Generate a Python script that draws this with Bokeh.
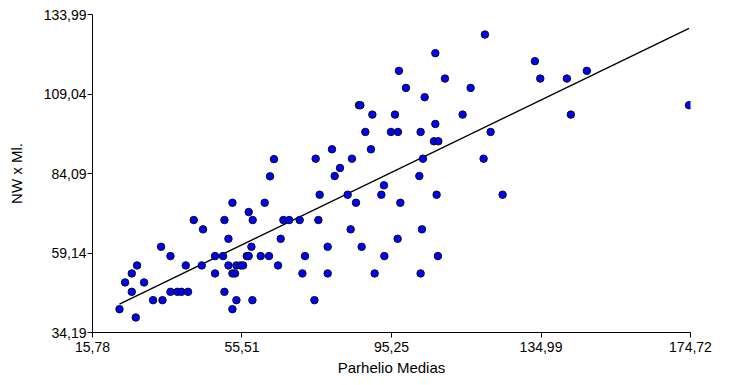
import numpy as np
from bokeh.plotting import figure
from bokeh.models import FixedTicker, Range1d
from bokeh.embed import file_html
from bokeh.resources import INLINE

# ---- data ----
parhelio = [
    120.08,
    106.90,
    133.36,
    97.23, 147.17,
    109.45, 134.79, 141.86,
    99.09, 116.28,
    104.06,
    86.60, 86.98, 174.32,
    90.16, 96.17, 114.15, 142.92,
    106.90,
    88.30, 95.10, 96.96, 102.99, 121.59,
    106.53, 107.70,
    79.43, 89.79,
    64.02, 75.10, 84.74, 103.61, 119.73,
    81.56,
    62.96, 80.15, 102.65,
    93.24,
    76.16, 83.60, 92.55, 107.24, 124.78,
    52.97, 61.55, 85.81, 97.60,
    57.30,
    42.69, 50.85, 58.36, 66.52, 68.06, 70.85, 75.82,
    45.16, 84.40, 103.34,
    51.91, 65.80, 96.88,
    34.00, 58.02, 78.29, 87.32,
    36.50, 48.35, 50.47, 56.77, 57.30, 60.49, 62.69, 72.26, 93.35, 107.59,
    27.63, 40.57, 44.82, 51.91, 54.03, 55.10, 55.79, 65.09,
    26.22, 48.35, 52.97, 53.66, 71.57, 78.29, 90.77, 102.99,
    24.44, 29.49,
    26.22, 36.50, 38.36, 39.42, 41.18, 50.85,
    31.88, 34.38, 54.03, 58.28, 74.76,
    22.95, 52.97,
    27.28,
]
nw_ml = [
    127.70,
    121.86,
    119.35,
    116.30, 116.30,
    113.88, 113.88, 113.88,
    110.96, 110.96,
    108.03,
    105.52, 105.52, 105.52,
    102.57, 102.57, 102.57, 102.57,
    99.64,
    97.13, 97.13, 97.13, 97.13, 97.13,
    94.21, 94.21,
    91.69, 91.69,
    88.60, 88.74, 88.74, 88.74, 88.74,
    85.82,
    83.20, 83.30, 83.30,
    80.38,
    77.43, 77.43, 77.43, 77.43, 77.43,
    74.91, 74.91, 74.91, 74.91,
    71.99,
    69.48, 69.48, 69.48, 69.48, 69.48, 69.48, 69.48,
    66.56, 66.56, 66.56,
    63.60, 63.60, 63.60,
    61.09, 61.09, 61.09, 61.09,
    58.17, 58.17, 58.17, 58.17, 58.17, 58.17, 58.17, 58.17, 58.17, 58.17,
    55.24, 55.24, 55.24, 55.24, 55.24, 55.24, 55.24, 55.24,
    52.73, 52.73, 52.73, 52.73, 52.73, 52.73, 52.73, 52.73,
    49.90, 49.90,
    46.95, 46.95, 46.95, 46.95, 46.95, 46.95,
    44.34, 44.34, 44.34, 44.34, 44.34,
    41.51, 41.51,
    38.90,
]

x_ticks = [15.78, 55.51, 95.25, 134.99, 174.72]
x_tick_labels = ["15,78", "55,51", "95,25", "134,99", "174,72"]
y_ticks = [34.19, 59.14, 84.09, 109.04, 133.99]
y_tick_labels = ["34,19", "59,14", "84,09", "109,04", "133,99"]

x_title = "Parhelio Medias"
y_title = "NW x Ml."

# ---- regression line computed from the data ----
xa = np.array(parhelio)
ya = np.array(nw_ml)
slope, intercept = np.polyfit(xa, ya, 1)
fit_x = [xa.min(), xa.max()]
fit_y = [intercept + slope * v for v in fit_x]

FONT = "Liberation Sans"

p = figure(
    frame_width=598, frame_height=318,
    x_range=Range1d(x_ticks[0], x_ticks[-1]),
    y_range=Range1d(y_ticks[0], y_ticks[-1]),
    output_backend="svg", toolbar_location=None,
    min_border_left=92, min_border_right=24,
    min_border_top=14, min_border_bottom=44,
    background_fill_color="white", border_fill_color="white",
)
p.outline_line_color = None
p.xgrid.visible = False
p.ygrid.visible = False

p.line(fit_x, fit_y, line_color="black", line_width=1.4)
p.scatter(parhelio, nw_ml, marker="circle", size=7.5,
          fill_color="#0000ff", line_color="#111111", line_width=1)

for ax, ticks, labels, title in ((p.xaxis[0], x_ticks, x_tick_labels, x_title),
                                 (p.yaxis[0], y_ticks, y_tick_labels, y_title)):
    ax.ticker = FixedTicker(ticks=ticks)
    ax.major_label_overrides = {t: l for t, l in zip(ticks, labels)}
    ax.axis_label = title
    ax.axis_label_text_font = FONT
    ax.axis_label_text_font_size = "15px"
    ax.axis_label_text_font_style = "normal"
    ax.axis_label_text_color = "black"
    ax.major_label_text_font = FONT
    ax.major_label_text_font_size = "14px"
    ax.major_label_text_color = "black"
    ax.axis_line_color = "black"
    ax.major_tick_line_color = "black"
    ax.minor_tick_line_color = None
    ax.major_tick_in = 0
    ax.major_tick_out = 5

p.yaxis[0].major_label_standoff = 1
p.xaxis[0].major_label_standoff = 4
p.yaxis[0].axis_label_standoff = 16
p.xaxis[0].axis_label_standoff = 4

open("out.html", "w").write(file_html(p, INLINE))
